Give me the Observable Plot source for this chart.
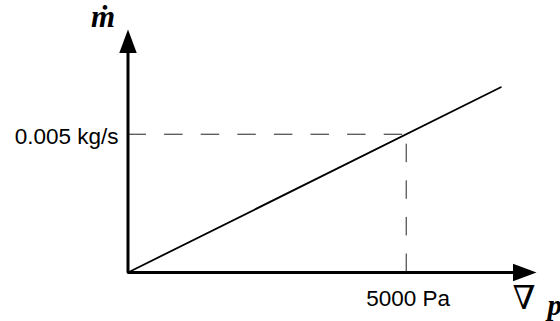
<!DOCTYPE html>
<html>
<head>
<meta charset="utf-8">
<script src="https://cdn.jsdelivr.net/npm/d3@7"></script>
<script src="https://cdn.jsdelivr.net/npm/@observablehq/plot@0.6"></script>
<style>
  html, body { margin: 0; padding: 0; background: #fff; }
  #chart svg { display: block; }
</style>
</head>
<body>
<div id="chart"></div>
<script>
// Linear relation between pressure drop and mass flow rate
const pressureDrop = [0, 6700];      // Pa
const massFlow = [0, 0.0067];        // kg/s

// Reference operating point, marked with dashed guides
const refPressure = [5000];          // Pa
const refFlow = [0.005];             // kg/s
const refPressureLabel = ["5000 Pa"];
const refFlowLabel = ["0.005 kg/s"];

// Axis extents (where the arrowheads sit)
const xEnd = 7000;
const yEnd = 0.0081;

const line = pressureDrop.map((p, i) => ({p, m: massFlow[i]}));
const ref = refPressure.map((p, i) => ({p, m: refFlow[i], pl: refPressureLabel[i], ml: refFlowLabel[i]}));
const axisPath = [{p: 0, m: yEnd}, {p: 0, m: 0}, {p: xEnd, m: 0}];

// Filled arrowheads, tip ahead of the anchor point so the axis line end is covered
const arrowUp = {draw(ctx) { ctx.moveTo(0, -19); ctx.lineTo(8.75, 4.5); ctx.lineTo(-8.75, 4.5); ctx.closePath(); }};
const arrowRight = {draw(ctx) { ctx.moveTo(19, 0); ctx.lineTo(-4.5, 8.75); ctx.lineTo(-4.5, -8.75); ctx.closePath(); }};

const serif = "'Liberation Serif', 'DejaVu Serif', serif";

const chart = Plot.plot({
  width: 560,
  height: 321,
  marginLeft: 127.5,
  marginRight: 43,
  marginTop: 48,
  marginBottom: 49,
  style: {background: "#fff", fontFamily: "'Liberation Sans', Arial, sans-serif", color: "#000"},
  x: {domain: [0, xEnd], axis: null},
  y: {domain: [0, yEnd], axis: null},
  marks: [
    // dashed guides to the reference point
    Plot.ruleY(ref, {y: "m", x1: 0, x2: "p", stroke: "#222", strokeWidth: 1, strokeDasharray: "18.5,18.1"}),
    Plot.ruleX(ref, {x: "p", y1: 0, y2: "m", stroke: "#222", strokeWidth: 1, strokeDasharray: "18.5,18.1"}),
    // characteristic line
    Plot.line(line, {x: "p", y: "m", stroke: "#000", strokeWidth: 1.8}),
    // axes
    Plot.line(axisPath, {x: "p", y: "m", stroke: "#000", strokeWidth: 3, strokeLinejoin: "miter", strokeLinecap: "butt"}),
    Plot.dot([axisPath[0]], {x: "p", y: "m", symbol: arrowUp, fill: "#000", stroke: "none"}),
    Plot.dot([axisPath[2]], {x: "p", y: "m", symbol: arrowRight, fill: "#000", stroke: "none"}),
    // reference labels
    Plot.text(ref, {x: 0, y: "m", text: "ml", textAnchor: "end", lineAnchor: "bottom", dx: -9.5, dy: 9.5, fontSize: 22.5, fill: "#000"}),
    Plot.text(ref, {x: "p", y: 0, text: "pl", textAnchor: "middle", lineAnchor: "bottom", dx: 2, dy: 33, fontSize: 22.5, fill: "#000"}),
    // axis titles
    Plot.text([axisPath[0]], {x: "p", y: "m", text: () => "ṁ", textAnchor: "middle", lineAnchor: "bottom", dx: -25, dy: -22, fontSize: 31, fontWeight: "bold", fontStyle: "italic", fontFamily: serif, fill: "#000"}),
    Plot.text([axisPath[2]], {x: "p", y: "m", text: () => "∇", textAnchor: "start", lineAnchor: "bottom", dx: -5, dy: 36, fontSize: 33, fontFamily: serif, fill: "#000"}),
    Plot.text([axisPath[2]], {x: "p", y: "m", text: () => "p", textAnchor: "start", lineAnchor: "bottom", dx: 30, dy: 42, fontSize: 29, fontWeight: "bold", fontStyle: "italic", fontFamily: serif, fill: "#000"})
  ]
});

document.getElementById("chart").appendChild(chart);
</script>
</body>
</html>
